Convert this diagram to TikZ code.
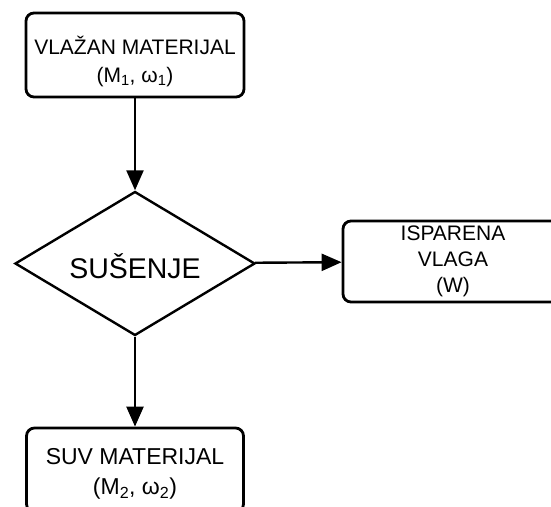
\documentclass[tikz,border=0pt]{standalone}
\usepackage{fontspec}
\setmainfont{Liberation Sans}
\usetikzlibrary{shapes.geometric,arrows.meta}

\begin{document}
\begin{tikzpicture}[x=1pt,y=-1pt,
    box/.style={draw, line width=2.8pt, rounded corners=8pt, inner sep=0pt},
    odluka/.style={draw, diamond, line width=2.4pt, inner sep=0pt,
        minimum width=240pt, minimum height=144pt},
    tekst/.style={align=center, inner sep=0pt},
    tok/.style={-{Triangle[length=20pt,width=17pt]}, line width=2.4pt}]
    \useasboundingbox (0,0) rectangle (551,506);

    % Blokovi
    \node[box, minimum width=218pt, minimum height=84pt] (vlazan) at (135,55) {};
    \node[odluka] (susenje) at (135,263.5) {};
    \node[box, minimum width=220pt, minimum height=81pt] (vlaga) at (453,261.5) {};
    \node[box, minimum width=217pt, minimum height=84pt] (suv) at (135,470) {};

    % Tekst
    \node[tekst, font=\fontsize{21}{28}\selectfont, yshift=-6.8pt] (tvlazan) at (vlazan)
        {VLAŽAN MATERIJAL\\(M\textsubscript{1}, ω\textsubscript{1})};
    \node[tekst, font=\fontsize{28.5}{34}\selectfont, yshift=-3pt] (tsusenje) at (susenje) {SUŠENJE};
    \node[tekst, font=\fontsize{21}{26}\selectfont] (tvlaga) at (vlaga) {ISPARENA\\VLAGA\\(W)};
    \node[tekst, font=\fontsize{23}{30}\selectfont, yshift=-4pt] (tsuv) at (suv)
        {SUV MATERIJAL\\(M\textsubscript{2}, ω\textsubscript{2})};

    % Strelice
    \draw[tok] (vlazan) -- (susenje);
    \draw[tok] (susenje) -- (vlaga);
    \draw[tok] (susenje) -- (suv);
\end{tikzpicture}
\end{document}
